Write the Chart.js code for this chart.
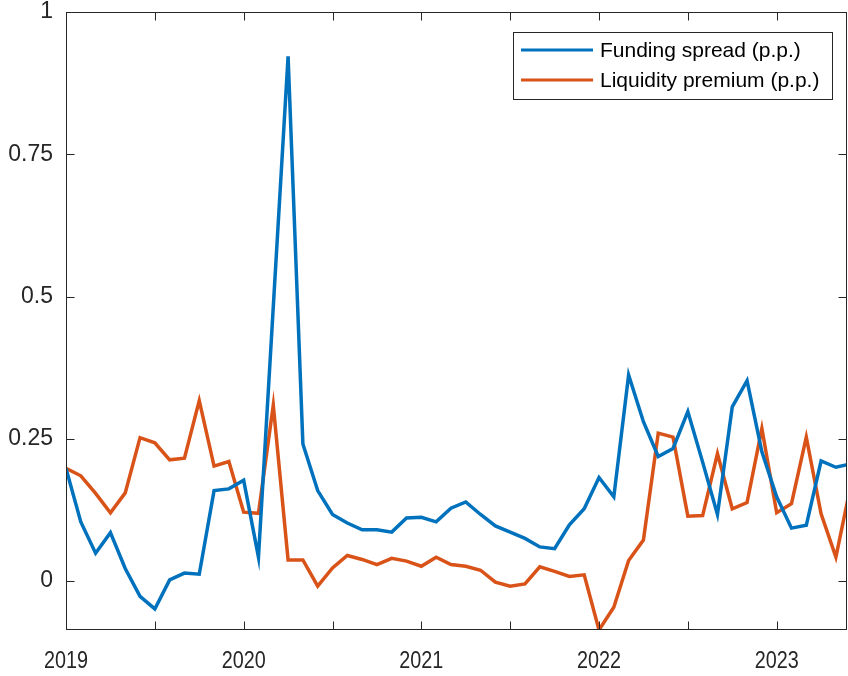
<!DOCTYPE html>
<html>
<head>
<meta charset="utf-8">
<script src="https://cdn.jsdelivr.net/npm/chart.js@4.4.1/dist/chart.umd.min.js"></script>
<style>
  html, body { margin: 0; padding: 0; background: #fff; }
  #wrap { width: 848px; height: 676px; position: relative; }
</style>
</head>
<body>
<div id="wrap"><canvas id="chart"></canvas></div>
<script>
// monthly data, first point = Jan 2019
const startYear = 2019;
const fundingSpread = [
  0.198, 0.104, 0.049, 0.085, 0.022, -0.027, -0.049, 0.002, 0.014, 0.012, 0.159, 0.162,
  0.177, 0.042, 0.482, 0.922, 0.241, 0.159, 0.117, 0.102, 0.090, 0.090, 0.086, 0.111,
  0.112, 0.104, 0.128, 0.139, 0.117, 0.097, 0.086, 0.075, 0.060, 0.057, 0.099, 0.127,
  0.182, 0.148, 0.362, 0.280, 0.219, 0.233, 0.298, 0.209, 0.117, 0.306, 0.352, 0.227,
  0.148, 0.093, 0.098, 0.211, 0.200, 0.206
];
const liquidityPremium = [
  0.198, 0.185, 0.154, 0.120, 0.155, 0.252, 0.243, 0.213, 0.216, 0.317, 0.202, 0.210,
  0.121, 0.119, 0.309, 0.037, 0.037, -0.009, 0.023, 0.045, 0.038, 0.029, 0.040, 0.035,
  0.026, 0.042, 0.029, 0.026, 0.019, -0.002, -0.009, -0.005, 0.025, 0.017, 0.008, 0.011,
  -0.086, -0.046, 0.036, 0.072, 0.260, 0.253, 0.114, 0.115, 0.224, 0.127, 0.138, 0.268,
  0.120, 0.136, 0.253, 0.118, 0.042, 0.168
];
const seriesNames = ['Funding spread (p.p.)', 'Liquidity premium (p.p.)'];
const seriesColors = ['#0072BD', '#D95319'];

const xTickMonths = [0, 6, 12, 18, 24, 30, 36, 42, 48];
const xTickLabels = ['2019', '', '2020', '', '2021', '', '2022', '', '2023'];
const xMax = 52.75;
const yTicks = [0, 0.25, 0.5, 0.75, 1];
const yTickLabels = ['0', '0.25', '0.5', '0.75', '1'];
const yMin = -0.086, yMax = 1;

const axisColor = '#262626';
const tickLen = 8;
const fontFamily = '"Liberation Sans", Arial, sans-serif';

function toPoints(values) {
  return values.map((v, i) => ({ x: i, y: v }));
}

// matlab-like box with inward ticks, narrow year labels, and the legend inside the axes
const boxAndLegend = {
  id: 'boxAndLegend',
  afterDraw(chart) {
    const { ctx, chartArea: a, scales: { x, y } } = chart;
    ctx.save();
    ctx.strokeStyle = axisColor;
    ctx.lineWidth = 1;
    const L = Math.floor(a.left) + 0.5, R = Math.floor(a.right) - 0.5;
    const T = Math.floor(a.top) + 0.5, B = Math.floor(a.bottom) - 0.5;
    ctx.beginPath();
    xTickMonths.forEach(m => {
      const px = Math.round(x.getPixelForValue(m)) + 0.5;
      ctx.moveTo(px, B); ctx.lineTo(px, B - tickLen);
      ctx.moveTo(px, T); ctx.lineTo(px, T + tickLen);
    });
    yTicks.forEach(v => {
      const py = Math.round(y.getPixelForValue(v)) + 0.5;
      ctx.moveTo(L, py); ctx.lineTo(L + tickLen, py);
      ctx.moveTo(R, py); ctx.lineTo(R - tickLen, py);
    });
    ctx.stroke();
    ctx.strokeRect(L, T, R - L, B - T);

    // year labels (slightly condensed, like the original)
    ctx.fillStyle = axisColor;
    ctx.font = '23px ' + fontFamily;
    ctx.textAlign = 'center';
    ctx.textBaseline = 'alphabetic';
    xTickMonths.forEach((m, i) => {
      if (!xTickLabels[i]) return;
      ctx.save();
      ctx.translate(x.getPixelForValue(m), a.bottom + 38);
      ctx.scale(0.86, 1);
      ctx.fillText(xTickLabels[i], 0, 0);
      ctx.restore();
    });

    // legend
    ctx.textAlign = 'left';
    ctx.fillStyle = '#fff';
    ctx.fillRect(513.5, 32.5, 319, 67);
    ctx.strokeStyle = axisColor;
    ctx.lineWidth = 1;
    ctx.strokeRect(513.5, 32.5, 319, 67);
    ctx.font = '21px ' + fontFamily;
    ctx.textBaseline = 'middle';
    chart.data.datasets.forEach((ds, i) => {
      const ry = 50 + i * 30;
      ctx.strokeStyle = ds.borderColor;
      ctx.lineWidth = 3;
      ctx.beginPath();
      ctx.moveTo(521, ry); ctx.lineTo(593, ry);
      ctx.stroke();
      ctx.fillStyle = '#000';
      ctx.fillText(ds.label, 600, ry + 1);
    });
    ctx.restore();
  }
};

const ctx = document.getElementById('chart').getContext('2d');
const chart = new Chart(ctx, {
  type: 'line',
  data: {
    datasets: [
      {
        label: seriesNames[0],
        data: toPoints(fundingSpread),
        borderColor: seriesColors[0],
        borderWidth: 3.5,
        pointRadius: 0,
        tension: 0,
        fill: false
      },
      {
        label: seriesNames[1],
        data: toPoints(liquidityPremium),
        borderColor: seriesColors[1],
        borderWidth: 3.5,
        pointRadius: 0,
        tension: 0,
        fill: false
      }
    ]
  },
  options: {
    responsive: true,
    maintainAspectRatio: false,
    animation: false,
    layout: { padding: { top: 12, right: 1, left: 0, bottom: 0 } },
    plugins: {
      legend: { display: false },
      tooltip: { enabled: false }
    },
    scales: {
      x: {
        type: 'linear',
        min: 0,
        max: xMax,
        afterBuildTicks: s => { s.ticks = xTickMonths.map(v => ({ value: v })); },
        afterFit: s => { s.height = 46; s.paddingLeft = 0; s.paddingRight = 0; },
        grid: { display: false, drawTicks: false },
        border: { display: false },
        ticks: { display: false }
      },
      y: {
        min: yMin,
        max: yMax,
        afterBuildTicks: s => { s.ticks = yTicks.map(v => ({ value: v })); },
        afterFit: s => { s.width = 66; s.paddingTop = 0; s.paddingBottom = 0; },
        grid: { display: false, drawTicks: false },
        border: { display: false },
        ticks: {
          padding: 13,
          color: axisColor,
          font: { family: fontFamily, size: 23 },
          callback: (v, i) => yTickLabels[i]
        }
      }
    }
  },
  plugins: [boxAndLegend]
});
</script>
</body>
</html>
